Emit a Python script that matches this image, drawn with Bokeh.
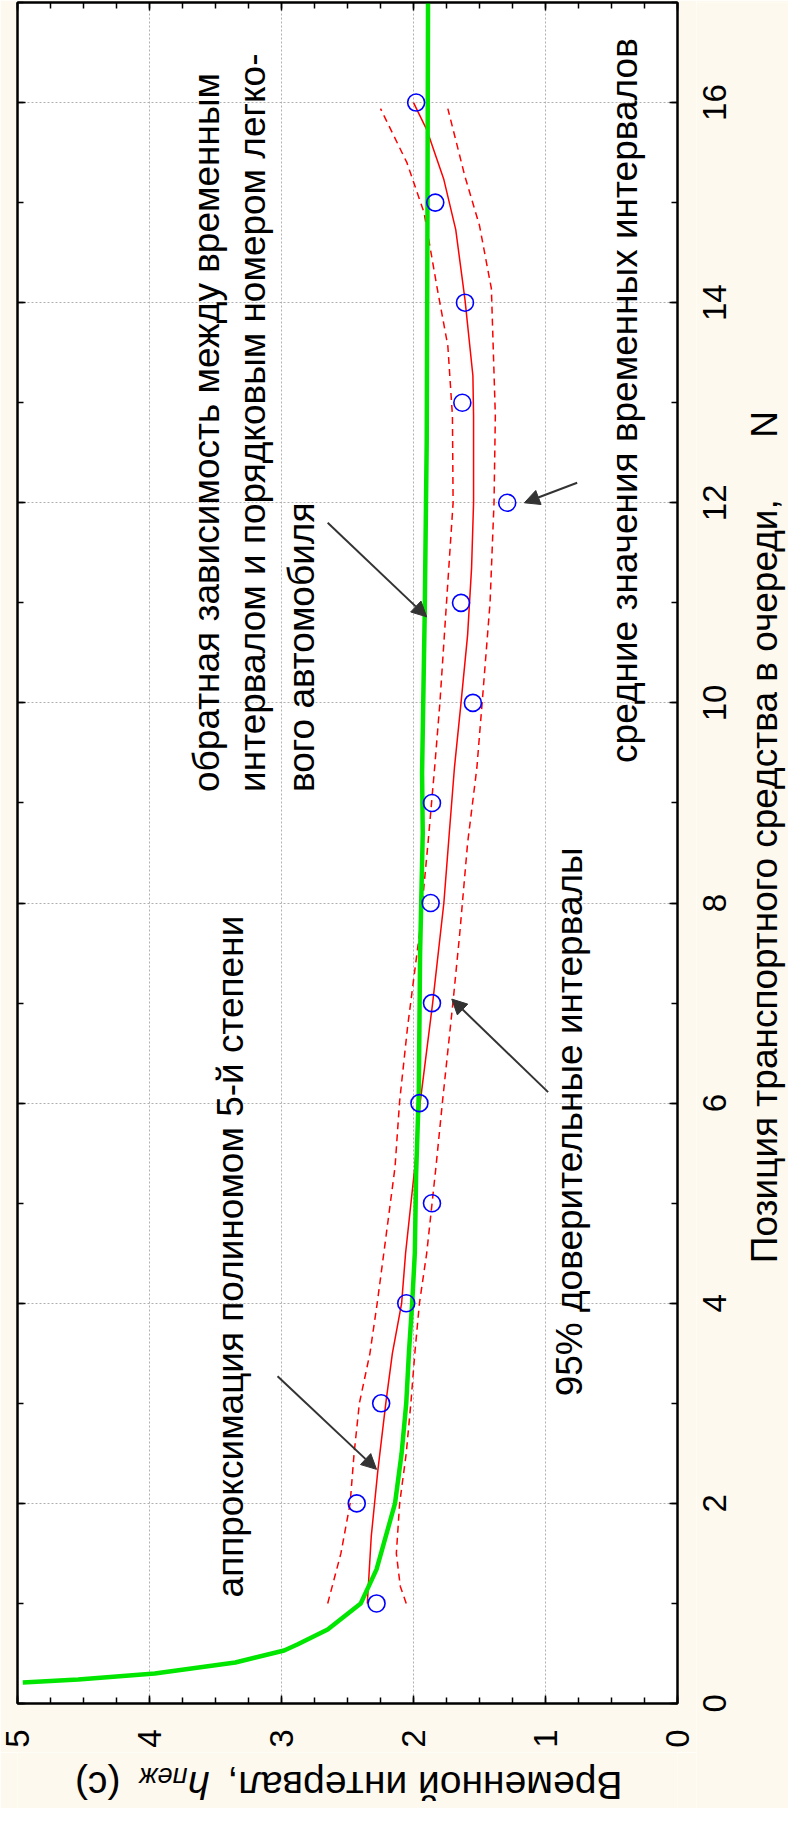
import math
from bokeh.plotting import figure
from bokeh.layouts import row, column
from bokeh.models import (Range1d, LinearAxis, SingleIntervalTicker, Label, Arrow,
                          NormalHead, CustomJSTickFormatter)
from bokeh.core.properties import value
from bokeh.embed import file_html
from bokeh.resources import INLINE

# ---------------- data ----------------
# observed mean time intervals per queue position
pos_n = [1, 2, 3, 4, 5, 6, 7, 8, 9, 10, 11, 12, 13, 14, 15, 16]
mean_h = [2.28, 2.43, 2.245, 2.055, 1.86, 1.955, 1.86, 1.87, 1.86, 1.55, 1.64, 1.29, 1.63, 1.61, 1.835, 1.98]

# 5th-degree polynomial fit
fit_n = [1.0, 1.67, 2.33, 3.0, 3.5, 4.0, 4.5, 5.36, 6.0, 7.0, 8.0, 8.68, 9.35, 10.0, 10.68,
         11.35, 12.0, 12.87, 13.27, 14.03, 14.73, 15.23, 15.73, 16.0]
fit_h = [2.35, 2.32, 2.27, 2.21, 2.16, 2.09, 2.06, 1.99, 1.95, 1.855, 1.77, 1.73, 1.69, 1.64, 1.59,
         1.56, 1.545, 1.545, 1.55, 1.61, 1.68, 1.77, 1.90, 2.0]

# 95% confidence band
upper_n = [1.0, 1.5, 2.0, 2.5, 3.0, 3.5, 4.0, 4.5, 5.36, 6.02, 6.76, 7.69, 8.6, 9.35, 10.0, 11.0,
           12.0, 12.87, 13.57, 14.14, 14.9, 15.4, 15.94]
upper_h = [2.65, 2.55, 2.48, 2.45, 2.41, 2.33, 2.275, 2.225, 2.14, 2.105, 2.045, 1.955, 1.89, 1.84,
           1.80, 1.75, 1.70, 1.705, 1.74, 1.82, 1.92, 2.05, 2.25]
lower_n = [1.0, 1.17, 1.5, 2.0, 2.5, 3.0, 3.5, 4.0, 4.5, 5.36, 6.02, 7.02, 7.69, 8.6, 9.35, 10.0,
           11.0, 12.0, 12.87, 14.14, 14.77, 15.26, 15.94]
lower_h = [2.055, 2.10, 2.13, 2.105, 2.055, 2.02, 1.99, 1.955, 1.90, 1.83, 1.78, 1.70, 1.65, 1.59,
           1.52, 1.48, 1.42, 1.39, 1.38, 1.41, 1.50, 1.61, 1.74]

# inverse dependence curve (green)
inv_n = [0.21, 0.24, 0.30, 0.41, 0.53, 0.59, 0.74, 1.0, 1.34, 1.67, 2.0, 2.5, 3.0, 3.5, 4.0, 4.5,
         5.3, 6.1, 7.5, 8.7, 9.3, 10.9, 12.6, 14.5, 17.0]
inv_h = [4.96, 4.54, 3.96, 3.35, 2.98, 2.88, 2.65, 2.40, 2.28, 2.21, 2.14, 2.09, 2.055, 2.035, 2.01,
         1.99, 1.98, 1.96, 1.95, 1.93, 1.935, 1.915, 1.90, 1.895, 1.89]

# tick labels of the queue-position axis
n_ticks = [0, 2, 4, 6, 8, 10, 12, 14, 16]
n_tick_labels = ["0", "2", "4", "6", "8", "10", "12", "14", "16"]

# annotation texts
note_fit = "аппроксимация полиномом 5-й степени"
note_inv = ["обратная зависимость между временным",
            "интервалом и порядковым номером легко-",
            "вого автомобиля"]
note_ci = "95% доверительные интервалы"
note_mean = "средние значения временных интервалов"
title_n = "Позиция транспортного средства в очереди,\u00a0\u00a0\u00a0\u00a0\u00a0\u00a0N"
title_h = ["Временной интервал,\u00a0", "h", "пеж", "(с)"]

# ---------------- styling ----------------
FONT = "Liberation Sans"
CREAM = "#fdf9ee"
EMPTY = CustomJSTickFormatter(code="return ''")
MAIN_W = 696
STRIP_W = 92

p = figure(width=MAIN_W, height=1752, x_range=Range1d(5, 0), y_range=Range1d(0, 17),
           output_backend="svg", toolbar_location=None, y_axis_location="right",
           min_border_left=17, min_border_right=MAIN_W - 677, min_border_top=2,
           min_border_bottom=49)
p.border_fill_color = CREAM
p.background_fill_color = "white"
p.outline_line_color = "black"
p.outline_line_width = 2

xt = SingleIntervalTicker(interval=1, num_minor_ticks=4)
yt = SingleIntervalTicker(interval=2, num_minor_ticks=2)


def style_axis(ax, show_labels):
    ax.axis_line_color = "black"
    ax.axis_line_width = 2
    ax.major_tick_in = 8
    ax.major_tick_out = 0
    ax.minor_tick_in = 6
    ax.minor_tick_out = 0
    ax.major_tick_line_width = 1.5
    ax.minor_tick_line_width = 1.5
    ax.major_tick_line_color = "black"
    ax.minor_tick_line_color = "black"
    ax.axis_label = None
    if show_labels:
        ax.major_label_text_font = FONT
        ax.major_label_text_font_size = "33px"
        ax.major_label_text_color = "black"
        ax.major_label_orientation = math.pi / 2
    else:
        ax.formatter = EMPTY
        ax.major_label_standoff = 0


xb = p.xaxis[0]
xb.ticker = xt
style_axis(xb, True)
xb.major_label_standoff = 26

yr = p.yaxis[0]
yr.ticker = yt
style_axis(yr, False)

ax_left = LinearAxis(ticker=yt)
style_axis(ax_left, False)
p.add_layout(ax_left, "left")
ax_top = LinearAxis(ticker=xt)
style_axis(ax_top, False)
p.add_layout(ax_top, "above")

for g in (p.xgrid[0], p.ygrid[0]):
    g.grid_line_color = "#b0b0b0"
    g.grid_line_dash = "2 2"
    g.grid_line_width = 1
p.xgrid[0].ticker = xt
p.ygrid[0].ticker = yt

# ---------------- glyphs ----------------
p.line(upper_h, upper_n, line_color="red", line_width=1.5, line_dash="7 5")
p.line(lower_h, lower_n, line_color="red", line_width=1.5, line_dash="7 5")
p.line(fit_h, fit_n, line_color="red", line_width=1.5)
p.line(inv_h, inv_n, line_color="#00e600", line_width=4.5)
p.scatter(mean_h, pos_n, marker="circle", size=17, fill_color=None,
          line_color="#0000ff", line_width=1.6)

# arrows
arrow_x0 = [3.03, 0.98, 2.65, 0.76]
arrow_y0 = [3.27, 6.11, 11.80, 12.20]
arrow_x1 = [2.28, 1.71, 1.90, 1.16]
arrow_y1 = [2.34, 7.04, 10.86, 12.00]
for xs, ys, xe, ye in zip(arrow_x0, arrow_y0, arrow_x1, arrow_y1):
    p.add_layout(Arrow(end=NormalHead(size=15, fill_color="#333333", line_color="#333333"),
                       x_start=xs, y_start=ys, x_end=xe, y_end=ye,
                       line_color="#333333", line_width=2))


def note(fig, txt, x, y, size="37px", angle=math.pi / 2, style="normal", align="left"):
    fig.add_layout(Label(x=x, y=y, text=txt, angle=angle, text_align=align,
                         text_baseline="middle", text_font=FONT, text_font_size=size,
                         text_font_style=style, text_color="black"))


note(p, note_fit, 3.39, 1.06)
for txt, xv in zip(note_inv, [3.57, 3.22, 2.85]):
    note(p, txt, xv, 9.11)
note(p, note_ci, 0.82, 3.07)
note(p, note_mean, 0.40, 9.40)


def blank_fig(width, height, xr, yr_, **borders):
    f = figure(width=width, height=height, x_range=xr, y_range=yr_, output_backend="svg",
               toolbar_location=None, x_axis_location=None, y_axis_location=None,
               min_border_left=borders.get("left", 0), min_border_right=borders.get("right", 0),
               min_border_top=borders.get("top", 0), min_border_bottom=borders.get("bottom", 0))
    f.grid.visible = False
    f.outline_line_color = None
    f.background_fill_color = CREAM
    f.border_fill_color = CREAM
    return f


# right strip: tick labels of the N axis and its title
pr = blank_fig(STRIP_W, 1808, Range1d(0, STRIP_W), Range1d(-1.05, 17), top=2)
pr.text(x=[18] * len(n_ticks), y=n_ticks, text=n_tick_labels, angle=math.pi / 2,
        text_align="center", text_baseline="middle", text_font=value(FONT),
        text_font_size="33px", text_color="black")
note(pr, title_n, 68, 4.40)

# bottom strip: title of the time-interval axis (upside down)
pb = blank_fig(MAIN_W, 56, Range1d(5, 0), Range1d(56, 0), left=17, right=MAIN_W - 677)
ty = 33
note(pb, title_h[0], 0.417, ty, size="39px", angle=math.pi)
note(pb, title_h[1], 3.546, ty, size="39px", angle=math.pi, style="italic")
note(pb, title_h[2], 3.713, ty - 9, size="27px", angle=math.pi, style="italic")
note(pb, title_h[3], 4.22, ty, size="39px", angle=math.pi)

layout = row(column(p, pb), pr)
open("out.html", "w").write(file_html(layout, INLINE))
